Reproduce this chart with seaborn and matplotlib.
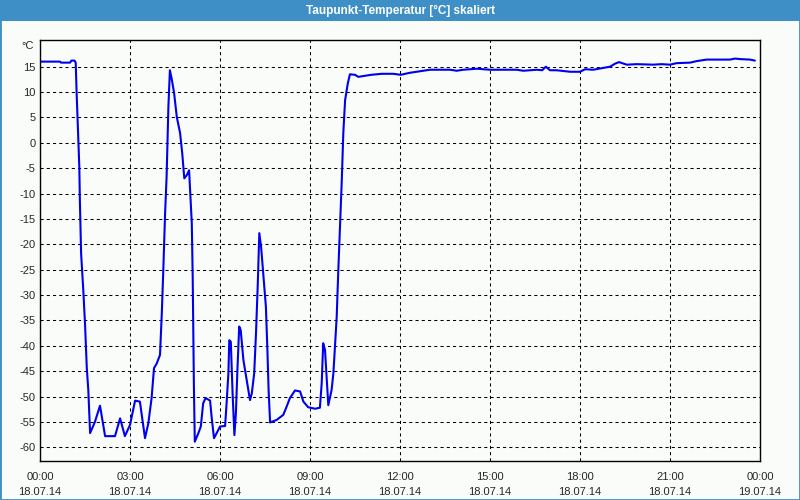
import pandas as pd
import numpy as np
import seaborn as sns
import matplotlib.pyplot as plt
from matplotlib.patches import Rectangle
from matplotlib.ticker import MultipleLocator

# hours since 18.07.14 00:00 and dew point in degC
hours = [0.0, 0.67, 0.7, 1.0, 1.05, 1.15, 1.19, 1.22, 1.28, 1.31, 1.33, 1.37, 1.44, 1.5,
         1.56, 1.61, 1.64, 1.67, 1.83, 2.0, 2.17, 2.5, 2.67, 2.83, 3.0, 3.17, 3.33, 3.5,
         3.61, 3.72, 3.8, 3.89, 4.0, 4.06, 4.11, 4.17, 4.22, 4.28, 4.33, 4.39, 4.47, 4.56,
         4.67, 4.74, 4.81, 4.89, 4.97, 5.06, 5.09, 5.11, 5.13, 5.16, 5.28, 5.36, 5.44, 5.52,
         5.61, 5.67, 5.72, 5.8, 5.89, 6.0, 6.17, 6.22, 6.28, 6.31, 6.36, 6.42, 6.48, 6.53,
         6.58, 6.64, 6.69, 6.78, 6.89, 7.0, 7.06, 7.14, 7.2, 7.26, 7.31, 7.37, 7.44, 7.53,
         7.58, 7.62, 7.67, 7.89, 8.11, 8.22, 8.33, 8.5, 8.67, 8.78, 8.94, 9.17, 9.33, 9.39,
         9.44, 9.5, 9.58, 9.61, 9.72, 9.78, 9.83, 9.89, 9.94, 10.0, 10.06, 10.11, 10.17,
         10.26, 10.33, 10.5, 10.61, 10.83, 11.04, 11.39, 11.78, 12.02, 12.33, 12.56, 13.0,
         13.67, 13.89, 14.11, 14.56, 15.0, 15.89, 16.11, 16.56, 16.74, 16.86, 17.0, 17.22,
         17.67, 18.0, 18.17, 18.44, 18.72, 19.0, 19.17, 19.3, 19.56, 19.89, 20.44, 20.72,
         21.0, 21.22, 21.67, 21.89, 22.22, 23.0, 23.17, 23.33, 23.67, 23.83]
dewpoint = [16.0, 16.0, 15.8, 15.8, 16.2, 16.2, 15.8, 10.0, 0.0, -4.7, -11.6, -21.8, -28.7, -35.6,
            -44.4, -48.7, -52.8, -57.2, -55.0, -51.8, -57.8, -57.8, -54.3, -57.8, -55.6, -50.8, -51.0, -58.2,
            -55.3, -50.3, -44.4, -43.5, -41.8, -33.6, -25.1, -13.9, -6.7, 7.1, 14.3, 12.6, 9.8, 5.1,
            1.9, -2.0, -7.0, -6.4, -5.4, -15.9, -26.4, -37.5, -48.0, -58.9, -57.2, -55.9, -51.3, -50.3,
            -50.6, -50.8, -54.0, -58.2, -57.2, -55.9, -55.8, -51.3, -45.4, -38.9, -39.2, -49.4, -57.6, -53.3,
            -44.8, -36.2, -36.9, -42.8, -46.7, -50.7, -49.4, -45.4, -37.5, -27.7, -17.8, -20.5, -25.7, -32.3,
            -40.8, -48.7, -55.1, -54.6, -53.6, -52.0, -50.3, -48.8, -49.0, -51.0, -52.1, -52.4, -52.2, -47.4,
            -39.5, -40.8, -48.7, -51.7, -48.7, -45.4, -40.2, -34.3, -25.7, -16.5, -7.3, 1.9, 8.4,
            11.7, 13.5, 13.4, 13.0, 13.2, 13.4, 13.6, 13.6, 13.4, 13.8, 14.0, 14.4,
            14.4, 14.2, 14.4, 14.6, 14.4, 14.4, 14.2, 14.4, 14.3, 15.0, 14.3, 14.3,
            14.0, 14.0, 14.5, 14.4, 14.7, 15.0, 15.6, 15.9, 15.4, 15.5, 15.4, 15.5,
            15.4, 15.7, 15.8, 16.1, 16.4, 16.4, 16.6, 16.5, 16.4, 16.2]

tick_hours = [0, 3, 6, 9, 12, 15, 18, 21, 24]
tick_labels = ["00:00\n18.07.14", "03:00\n18.07.14", "06:00\n18.07.14", "09:00\n18.07.14",
               "12:00\n18.07.14", "15:00\n18.07.14", "18:00\n18.07.14", "21:00\n18.07.14",
               "00:00\n19.07.14"]
y_ticks = list(range(-60, 20, 5))

df = pd.DataFrame({"hour": hours, "dewpoint": dewpoint})

sns.set_style("white")
plt.rcParams["font.family"] = ["Liberation Sans", "DejaVu Sans"]
plt.rcParams["axes.unicode_minus"] = False

bg = "#fafcfa"
fig = plt.figure(figsize=(8, 5), dpi=100, facecolor=bg)
ax = fig.add_axes([40 / 800, 1 - 460.7 / 500, 720 / 800, 420.7 / 500])
ax.set_facecolor(bg)

sns.lineplot(data=df, x="hour", y="dewpoint", ax=ax, color="#0000ee",
             linewidth=1.5, estimator=None, sort=False)

ax.set_xlim(0, 24)
ax.set_ylim(-62.64, 20.26)
ax.set_xticks(tick_hours)
ax.set_xticklabels(tick_labels, fontsize=8)
ax.xaxis.set_minor_locator(MultipleLocator(1))
ax.set_yticks(y_ticks)
ax.set_yticklabels([str(v) for v in y_ticks], fontsize=8)
for lab in ax.get_xticklabels():
    lab.set_linespacing(1.6)
ax.tick_params(axis="x", which="both", direction="out", length=3, width=1,
               color="black", pad=5)
ax.tick_params(axis="y", length=0, pad=3)
ax.set_xlabel("")
ax.set_ylabel("")
ax.grid(True, which="major", color="black", linestyle=(0, (3, 3)), linewidth=0.75)
for s in ax.spines.values():
    s.set_color("black")
    s.set_linewidth(1)

# title bar and window frame
fig.patches.append(Rectangle((0, 1 - 21 / 500), 1, 21 / 500, transform=fig.transFigure,
                             facecolor="#3d8fc6", edgecolor="none", zorder=0))
fig.patches.append(Rectangle((0, 0), 1, 1, transform=fig.transFigure,
                             facecolor="none", edgecolor="#3d8fc6", linewidth=2, zorder=1))
fig.text(0.5, 1 - 10.5 / 500, "Taupunkt-Temperatur [°C] skaliert", color="white",
         fontsize=8.5, fontweight="bold", ha="center", va="center")
fig.text(34 / 800, 1 - 46 / 500, "°C", fontsize=8, ha="right", va="center")

fig.savefig("out.png", dpi=100, facecolor=bg)
